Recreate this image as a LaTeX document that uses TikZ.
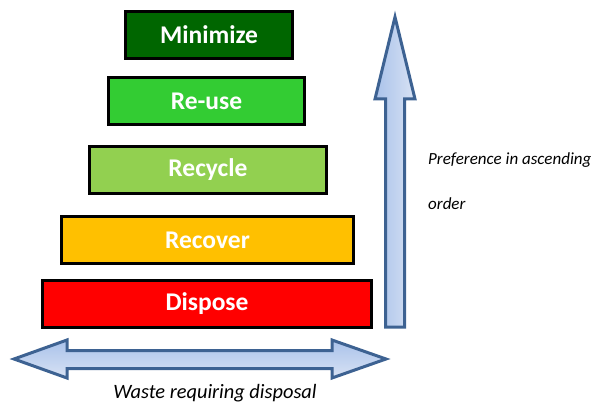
\documentclass[tikz,border=0pt]{standalone}
\usepackage{fontspec}
\setmainfont{Carlito}
\usepackage{xcolor}
\usepackage{tikz}
\usetikzlibrary{shadows}

\definecolor{minimizegreen}{HTML}{006600}
\definecolor{reusegreen}{HTML}{33CC33}
\definecolor{recyclegreen}{HTML}{92D050}
\definecolor{recoverorange}{HTML}{FFC000}
\definecolor{disposered}{HTML}{FF0000}
\definecolor{arrowline}{HTML}{3D6292}
\definecolor{arrowdark}{HTML}{A9C2EA}
\definecolor{arrowlight}{HTML}{D8E2F4}

\begin{document}
\begin{tikzpicture}[x=1pt,y=-1pt,
		level/.style={draw=black, line width=3pt, minimum height=47pt, inner sep=0pt,
			text=white, font=\fontsize{25.5}{30}\selectfont\bfseries,
			drop shadow={shadow xshift=1.5pt, shadow yshift=-1.5pt, fill=black, opacity=0.25}},
		bigarrow/.style={draw=arrowline, line width=3pt, line join=miter},
		note/.style={font=\fontsize{17}{20}\selectfont\itshape, anchor=base west, inner sep=0pt}]
				\useasboundingbox (0,0) rectangle (591,403);

				% pyramid of options
				\node[level, fill=minimizegreen, minimum width=167pt] (minimize) at (209,35) {Minimize};
				\node[level, fill=reusegreen, minimum width=196pt] (reuse) at (206.5,101.5) {Re-use};
				\node[level, fill=recyclegreen, minimum width=237pt] (recycle) at (208,170) {Recycle};
				\node[level, fill=recoverorange, minimum width=292pt] (recover) at (207.5,240) {Recover};
				\node[level, fill=disposered, minimum width=329pt] (dispose) at (207,304) {Dispose};

				% preference arrow
				\draw[bigarrow, left color=arrowdark, right color=arrowlight]
					(395,17) -- (415,99) -- (404.5,99) -- (404.5,327) -- (385.5,327)
					-- (385.5,99) -- (375,99) -- cycle;
				\node[note] (pref) at (428,165) {Preference in ascending};
				\node[note] (order) at (428,210) {order};

				% waste arrow
				\draw[bigarrow, top color=arrowdark, bottom color=arrowlight]
					(14,359) -- (67,340) -- (67,350.5) -- (332,350.5) -- (332,340) -- (386,359)
					-- (332,378) -- (332,368.5) -- (67,368.5) -- (67,378) -- cycle;
				\node[font=\fontsize{20.4}{24}\selectfont\itshape, anchor=base, inner sep=0pt] (waste) at (215,398) {Waste requiring disposal};
			\end{tikzpicture}
\end{document}
